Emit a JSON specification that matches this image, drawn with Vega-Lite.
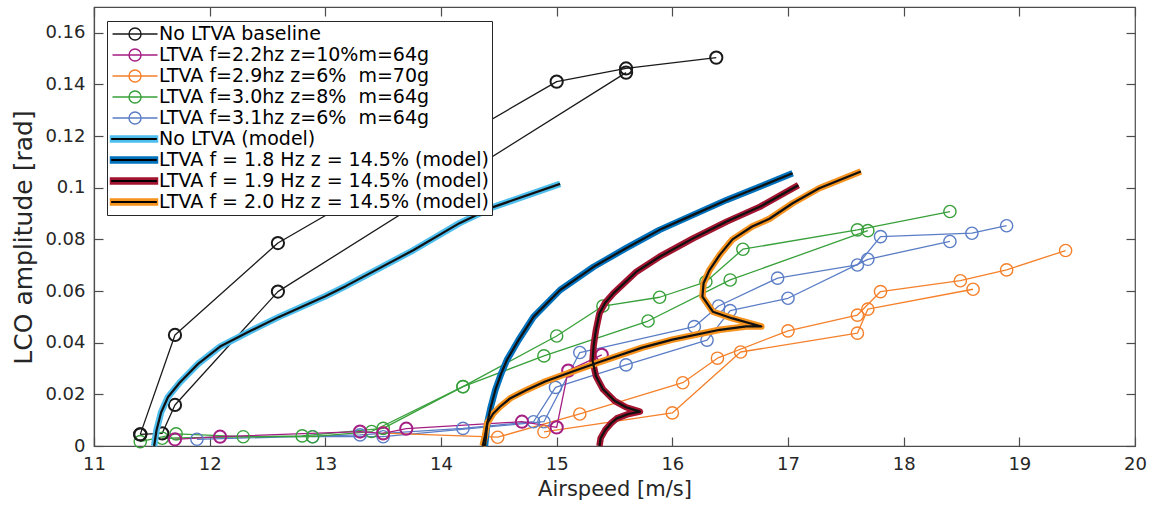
{
  "$schema": "https://vega.github.io/schema/vega-lite/v6.json",
  "width": 1041,
  "height": 439,
  "autosize": {"type": "none"},
  "padding": {"left": 94, "top": 7, "right": 19, "bottom": 62},
  "background": "white",
  "datasets": {
    "exp": [
      {"series": "LTVA f=3.1hz z=6%\u00a0 m=64g", "run": "a", "airspeed": 11.89, "amp": 0.0026},
      {"series": "LTVA f=3.1hz z=6%\u00a0 m=64g", "run": "a", "airspeed": 13.30, "amp": 0.0043},
      {"series": "LTVA f=3.1hz z=6%\u00a0 m=64g", "run": "a", "airspeed": 14.19, "amp": 0.0068},
      {"series": "LTVA f=3.1hz z=6%\u00a0 m=64g", "run": "a", "airspeed": 14.80, "amp": 0.0094},
      {"series": "LTVA f=3.1hz z=6%\u00a0 m=64g", "run": "a", "airspeed": 14.99, "amp": 0.0227},
      {"series": "LTVA f=3.1hz z=6%\u00a0 m=64g", "run": "a", "airspeed": 15.60, "amp": 0.0314},
      {"series": "LTVA f=3.1hz z=6%\u00a0 m=64g", "run": "a", "airspeed": 16.30, "amp": 0.0410},
      {"series": "LTVA f=3.1hz z=6%\u00a0 m=64g", "run": "a", "airspeed": 16.50, "amp": 0.0524},
      {"series": "LTVA f=3.1hz z=6%\u00a0 m=64g", "run": "a", "airspeed": 17.00, "amp": 0.0572},
      {"series": "LTVA f=3.1hz z=6%\u00a0 m=64g", "run": "a", "airspeed": 17.69, "amp": 0.0723},
      {"series": "LTVA f=3.1hz z=6%\u00a0 m=64g", "run": "a", "airspeed": 18.40, "amp": 0.0792},
      {"series": "LTVA f=3.1hz z=6%\u00a0 m=64g", "run": "b", "airspeed": 12.89, "amp": 0.0036},
      {"series": "LTVA f=3.1hz z=6%\u00a0 m=64g", "run": "b", "airspeed": 13.50, "amp": 0.0036},
      {"series": "LTVA f=3.1hz z=6%\u00a0 m=64g", "run": "b", "airspeed": 14.89, "amp": 0.0094},
      {"series": "LTVA f=3.1hz z=6%\u00a0 m=64g", "run": "b", "airspeed": 15.20, "amp": 0.0362},
      {"series": "LTVA f=3.1hz z=6%\u00a0 m=64g", "run": "b", "airspeed": 16.19, "amp": 0.0462},
      {"series": "LTVA f=3.1hz z=6%\u00a0 m=64g", "run": "b", "airspeed": 16.40, "amp": 0.0542},
      {"series": "LTVA f=3.1hz z=6%\u00a0 m=64g", "run": "b", "airspeed": 16.91, "amp": 0.0650},
      {"series": "LTVA f=3.1hz z=6%\u00a0 m=64g", "run": "b", "airspeed": 17.60, "amp": 0.0701},
      {"series": "LTVA f=3.1hz z=6%\u00a0 m=64g", "run": "b", "airspeed": 17.80, "amp": 0.0811},
      {"series": "LTVA f=3.1hz z=6%\u00a0 m=64g", "run": "b", "airspeed": 18.59, "amp": 0.0824},
      {"series": "LTVA f=3.1hz z=6%\u00a0 m=64g", "run": "b", "airspeed": 18.89, "amp": 0.0853},

      {"series": "LTVA f=3.0hz z=8%\u00a0 m=64g", "run": "a", "airspeed": 11.40, "amp": 0.0017},
      {"series": "LTVA f=3.0hz z=8%\u00a0 m=64g", "run": "a", "airspeed": 11.71, "amp": 0.0047},
      {"series": "LTVA f=3.0hz z=8%\u00a0 m=64g", "run": "a", "airspeed": 12.29, "amp": 0.0036},
      {"series": "LTVA f=3.0hz z=8%\u00a0 m=64g", "run": "a", "airspeed": 12.89, "amp": 0.0036},
      {"series": "LTVA f=3.0hz z=8%\u00a0 m=64g", "run": "a", "airspeed": 13.40, "amp": 0.0056},
      {"series": "LTVA f=3.0hz z=8%\u00a0 m=64g", "run": "a", "airspeed": 14.19, "amp": 0.0230},
      {"series": "LTVA f=3.0hz z=8%\u00a0 m=64g", "run": "a", "airspeed": 15.00, "amp": 0.0426},
      {"series": "LTVA f=3.0hz z=8%\u00a0 m=64g", "run": "a", "airspeed": 15.40, "amp": 0.0542},
      {"series": "LTVA f=3.0hz z=8%\u00a0 m=64g", "run": "a", "airspeed": 15.89, "amp": 0.0576},
      {"series": "LTVA f=3.0hz z=8%\u00a0 m=64g", "run": "a", "airspeed": 16.29, "amp": 0.0636},
      {"series": "LTVA f=3.0hz z=8%\u00a0 m=64g", "run": "a", "airspeed": 16.61, "amp": 0.0762},
      {"series": "LTVA f=3.0hz z=8%\u00a0 m=64g", "run": "a", "airspeed": 17.60, "amp": 0.0837},
      {"series": "LTVA f=3.0hz z=8%\u00a0 m=64g", "run": "a", "airspeed": 18.40, "amp": 0.0908},
      {"series": "LTVA f=3.0hz z=8%\u00a0 m=64g", "run": "b", "airspeed": 11.59, "amp": 0.0030},
      {"series": "LTVA f=3.0hz z=8%\u00a0 m=64g", "run": "b", "airspeed": 12.80, "amp": 0.0039},
      {"series": "LTVA f=3.0hz z=8%\u00a0 m=64g", "run": "b", "airspeed": 13.50, "amp": 0.0068},
      {"series": "LTVA f=3.0hz z=8%\u00a0 m=64g", "run": "b", "airspeed": 14.19, "amp": 0.0230},
      {"series": "LTVA f=3.0hz z=8%\u00a0 m=64g", "run": "b", "airspeed": 14.89, "amp": 0.0349},
      {"series": "LTVA f=3.0hz z=8%\u00a0 m=64g", "run": "b", "airspeed": 15.79, "amp": 0.0484},
      {"series": "LTVA f=3.0hz z=8%\u00a0 m=64g", "run": "b", "airspeed": 16.50, "amp": 0.0643},
      {"series": "LTVA f=3.0hz z=8%\u00a0 m=64g", "run": "b", "airspeed": 17.69, "amp": 0.0834},

      {"series": "LTVA f=2.9hz z=6%\u00a0 m=70g", "run": "a", "airspeed": 13.50, "amp": 0.0050},
      {"series": "LTVA f=2.9hz z=6%\u00a0 m=70g", "run": "a", "airspeed": 14.49, "amp": 0.0034},
      {"series": "LTVA f=2.9hz z=6%\u00a0 m=70g", "run": "a", "airspeed": 15.20, "amp": 0.0124},
      {"series": "LTVA f=2.9hz z=6%\u00a0 m=70g", "run": "a", "airspeed": 16.09, "amp": 0.0245},
      {"series": "LTVA f=2.9hz z=6%\u00a0 m=70g", "run": "a", "airspeed": 16.39, "amp": 0.0340},
      {"series": "LTVA f=2.9hz z=6%\u00a0 m=70g", "run": "a", "airspeed": 17.00, "amp": 0.0446},
      {"series": "LTVA f=2.9hz z=6%\u00a0 m=70g", "run": "a", "airspeed": 17.60, "amp": 0.0507},
      {"series": "LTVA f=2.9hz z=6%\u00a0 m=70g", "run": "a", "airspeed": 17.80, "amp": 0.0598},
      {"series": "LTVA f=2.9hz z=6%\u00a0 m=70g", "run": "a", "airspeed": 18.49, "amp": 0.0640},
      {"series": "LTVA f=2.9hz z=6%\u00a0 m=70g", "run": "a", "airspeed": 18.89, "amp": 0.0682},
      {"series": "LTVA f=2.9hz z=6%\u00a0 m=70g", "run": "a", "airspeed": 19.40, "amp": 0.0757},
      {"series": "LTVA f=2.9hz z=6%\u00a0 m=70g", "run": "b", "airspeed": 14.89, "amp": 0.0055},
      {"series": "LTVA f=2.9hz z=6%\u00a0 m=70g", "run": "b", "airspeed": 16.00, "amp": 0.0128},
      {"series": "LTVA f=2.9hz z=6%\u00a0 m=70g", "run": "b", "airspeed": 16.59, "amp": 0.0364},
      {"series": "LTVA f=2.9hz z=6%\u00a0 m=70g", "run": "b", "airspeed": 17.60, "amp": 0.0437},
      {"series": "LTVA f=2.9hz z=6%\u00a0 m=70g", "run": "b", "airspeed": 17.69, "amp": 0.0530},
      {"series": "LTVA f=2.9hz z=6%\u00a0 m=70g", "run": "b", "airspeed": 18.60, "amp": 0.0607},

      {"series": "No LTVA baseline", "run": "a", "airspeed": 11.40, "amp": 0.0045},
      {"series": "No LTVA baseline", "run": "a", "airspeed": 11.70, "amp": 0.0430},
      {"series": "No LTVA baseline", "run": "a", "airspeed": 12.59, "amp": 0.0786},
      {"series": "No LTVA baseline", "run": "a", "airspeed": 15.00, "amp": 0.1411},
      {"series": "No LTVA baseline", "run": "a", "airspeed": 15.60, "amp": 0.1462},
      {"series": "No LTVA baseline", "run": "a", "airspeed": 16.38, "amp": 0.1504},
      {"series": "No LTVA baseline", "run": "b", "airspeed": 11.40, "amp": 0.0045},
      {"series": "No LTVA baseline", "run": "b", "airspeed": 11.59, "amp": 0.0049},
      {"series": "No LTVA baseline", "run": "b", "airspeed": 11.70, "amp": 0.0159},
      {"series": "No LTVA baseline", "run": "b", "airspeed": 12.59, "amp": 0.0598},
      {"series": "No LTVA baseline", "run": "b", "airspeed": 15.60, "amp": 0.1446},

      {"series": "LTVA f=2.2hz z=10%m=64g", "run": "a", "airspeed": 11.70, "amp": 0.0026},
      {"series": "LTVA f=2.2hz z=10%m=64g", "run": "a", "airspeed": 12.09, "amp": 0.0036},
      {"series": "LTVA f=2.2hz z=10%m=64g", "run": "a", "airspeed": 13.30, "amp": 0.0056},
      {"series": "LTVA f=2.2hz z=10%m=64g", "run": "a", "airspeed": 13.50, "amp": 0.0049},
      {"series": "LTVA f=2.2hz z=10%m=64g", "run": "a", "airspeed": 13.70, "amp": 0.0067},
      {"series": "LTVA f=2.2hz z=10%m=64g", "run": "a", "airspeed": 14.70, "amp": 0.0094},
      {"series": "LTVA f=2.2hz z=10%m=64g", "run": "a", "airspeed": 15.00, "amp": 0.0072},
      {"series": "LTVA f=2.2hz z=10%m=64g", "run": "a", "airspeed": 15.10, "amp": 0.0292},
      {"series": "LTVA f=2.2hz z=10%m=64g", "run": "a", "airspeed": 15.39, "amp": 0.0353}
    ],
    "model": [
      {"series": "No LTVA (model)", "k": 0, "airspeed": 11.52, "amp": 0.0},
      {"series": "No LTVA (model)", "k": 1, "airspeed": 11.54, "amp": 0.006},
      {"series": "No LTVA (model)", "k": 2, "airspeed": 11.58, "amp": 0.013},
      {"series": "No LTVA (model)", "k": 3, "airspeed": 11.64, "amp": 0.019},
      {"series": "No LTVA (model)", "k": 4, "airspeed": 11.74, "amp": 0.0245},
      {"series": "No LTVA (model)", "k": 5, "airspeed": 11.90, "amp": 0.0318},
      {"series": "No LTVA (model)", "k": 6, "airspeed": 12.09, "amp": 0.0385},
      {"series": "No LTVA (model)", "k": 7, "airspeed": 12.35, "amp": 0.0445},
      {"series": "No LTVA (model)", "k": 8, "airspeed": 12.60, "amp": 0.0500},
      {"series": "No LTVA (model)", "k": 9, "airspeed": 13.00, "amp": 0.0580},
      {"series": "No LTVA (model)", "k": 10, "airspeed": 13.18, "amp": 0.0620},
      {"series": "No LTVA (model)", "k": 11, "airspeed": 13.76, "amp": 0.0758},
      {"series": "No LTVA (model)", "k": 12, "airspeed": 14.16, "amp": 0.0863},
      {"series": "No LTVA (model)", "k": 13, "airspeed": 14.45, "amp": 0.0925},
      {"series": "No LTVA (model)", "k": 14, "airspeed": 15.03, "amp": 0.1015},

      {"series": "LTVA f = 1.8 Hz z = 14.5% (model)", "k": 0, "airspeed": 14.38, "amp": 0.0},
      {"series": "LTVA f = 1.8 Hz z = 14.5% (model)", "k": 1, "airspeed": 14.39, "amp": 0.004},
      {"series": "LTVA f = 1.8 Hz z = 14.5% (model)", "k": 2, "airspeed": 14.40, "amp": 0.0088},
      {"series": "LTVA f = 1.8 Hz z = 14.5% (model)", "k": 3, "airspeed": 14.43, "amp": 0.015},
      {"series": "LTVA f = 1.8 Hz z = 14.5% (model)", "k": 4, "airspeed": 14.47, "amp": 0.0217},
      {"series": "LTVA f = 1.8 Hz z = 14.5% (model)", "k": 5, "airspeed": 14.52, "amp": 0.028},
      {"series": "LTVA f = 1.8 Hz z = 14.5% (model)", "k": 6, "airspeed": 14.57, "amp": 0.0333},
      {"series": "LTVA f = 1.8 Hz z = 14.5% (model)", "k": 7, "airspeed": 14.67, "amp": 0.041},
      {"series": "LTVA f = 1.8 Hz z = 14.5% (model)", "k": 8, "airspeed": 14.80, "amp": 0.050},
      {"series": "LTVA f = 1.8 Hz z = 14.5% (model)", "k": 9, "airspeed": 15.03, "amp": 0.0604},
      {"series": "LTVA f = 1.8 Hz z = 14.5% (model)", "k": 10, "airspeed": 15.32, "amp": 0.0694},
      {"series": "LTVA f = 1.8 Hz z = 14.5% (model)", "k": 11, "airspeed": 15.60, "amp": 0.0766},
      {"series": "LTVA f = 1.8 Hz z = 14.5% (model)", "k": 12, "airspeed": 15.89, "amp": 0.0837},
      {"series": "LTVA f = 1.8 Hz z = 14.5% (model)", "k": 13, "airspeed": 16.18, "amp": 0.0895},
      {"series": "LTVA f = 1.8 Hz z = 14.5% (model)", "k": 14, "airspeed": 16.47, "amp": 0.0953},
      {"series": "LTVA f = 1.8 Hz z = 14.5% (model)", "k": 15, "airspeed": 16.76, "amp": 0.1005},
      {"series": "LTVA f = 1.8 Hz z = 14.5% (model)", "k": 16, "airspeed": 17.04, "amp": 0.1056},

      {"series": "LTVA f = 1.9 Hz z = 14.5% (model)", "k": 0, "airspeed": 15.37, "amp": 0.0},
      {"series": "LTVA f = 1.9 Hz z = 14.5% (model)", "k": 1, "airspeed": 15.38, "amp": 0.003},
      {"series": "LTVA f = 1.9 Hz z = 14.5% (model)", "k": 2, "airspeed": 15.42, "amp": 0.0062},
      {"series": "LTVA f = 1.9 Hz z = 14.5% (model)", "k": 3, "airspeed": 15.47, "amp": 0.0088},
      {"series": "LTVA f = 1.9 Hz z = 14.5% (model)", "k": 4, "airspeed": 15.52, "amp": 0.0107},
      {"series": "LTVA f = 1.9 Hz z = 14.5% (model)", "k": 5, "airspeed": 15.62, "amp": 0.0124},
      {"series": "LTVA f = 1.9 Hz z = 14.5% (model)", "k": 6, "airspeed": 15.72, "amp": 0.0133},
      {"series": "LTVA f = 1.9 Hz z = 14.5% (model)", "k": 7, "airspeed": 15.60, "amp": 0.0150},
      {"series": "LTVA f = 1.9 Hz z = 14.5% (model)", "k": 8, "airspeed": 15.50, "amp": 0.0175},
      {"series": "LTVA f = 1.9 Hz z = 14.5% (model)", "k": 9, "airspeed": 15.40, "amp": 0.0220},
      {"series": "LTVA f = 1.9 Hz z = 14.5% (model)", "k": 10, "airspeed": 15.34, "amp": 0.0270},
      {"series": "LTVA f = 1.9 Hz z = 14.5% (model)", "k": 11, "airspeed": 15.31, "amp": 0.0330},
      {"series": "LTVA f = 1.9 Hz z = 14.5% (model)", "k": 12, "airspeed": 15.32, "amp": 0.0390},
      {"series": "LTVA f = 1.9 Hz z = 14.5% (model)", "k": 13, "airspeed": 15.34, "amp": 0.0450},
      {"series": "LTVA f = 1.9 Hz z = 14.5% (model)", "k": 14, "airspeed": 15.37, "amp": 0.0514},
      {"series": "LTVA f = 1.9 Hz z = 14.5% (model)", "k": 15, "airspeed": 15.42, "amp": 0.0555},
      {"series": "LTVA f = 1.9 Hz z = 14.5% (model)", "k": 16, "airspeed": 15.49, "amp": 0.0591},
      {"series": "LTVA f = 1.9 Hz z = 14.5% (model)", "k": 17, "airspeed": 15.69, "amp": 0.0675},
      {"series": "LTVA f = 1.9 Hz z = 14.5% (model)", "k": 18, "airspeed": 15.89, "amp": 0.0733},
      {"series": "LTVA f = 1.9 Hz z = 14.5% (model)", "k": 19, "airspeed": 16.18, "amp": 0.0804},
      {"series": "LTVA f = 1.9 Hz z = 14.5% (model)", "k": 20, "airspeed": 16.47, "amp": 0.0869},
      {"series": "LTVA f = 1.9 Hz z = 14.5% (model)", "k": 21, "airspeed": 16.76, "amp": 0.0927},
      {"series": "LTVA f = 1.9 Hz z = 14.5% (model)", "k": 22, "airspeed": 17.09, "amp": 0.1010},

      {"series": "LTVA f = 2.0 Hz z = 14.5% (model)", "k": 0, "airspeed": 14.36, "amp": 0.0},
      {"series": "LTVA f = 2.0 Hz z = 14.5% (model)", "k": 1, "airspeed": 14.38, "amp": 0.004},
      {"series": "LTVA f = 2.0 Hz z = 14.5% (model)", "k": 2, "airspeed": 14.40, "amp": 0.0088},
      {"series": "LTVA f = 2.0 Hz z = 14.5% (model)", "k": 3, "airspeed": 14.45, "amp": 0.0125},
      {"series": "LTVA f = 2.0 Hz z = 14.5% (model)", "k": 4, "airspeed": 14.51, "amp": 0.0152},
      {"series": "LTVA f = 2.0 Hz z = 14.5% (model)", "k": 5, "airspeed": 14.60, "amp": 0.0185},
      {"series": "LTVA f = 2.0 Hz z = 14.5% (model)", "k": 6, "airspeed": 14.74, "amp": 0.0217},
      {"series": "LTVA f = 2.0 Hz z = 14.5% (model)", "k": 7, "airspeed": 14.90, "amp": 0.0250},
      {"series": "LTVA f = 2.0 Hz z = 14.5% (model)", "k": 8, "airspeed": 15.09, "amp": 0.0281},
      {"series": "LTVA f = 2.0 Hz z = 14.5% (model)", "k": 9, "airspeed": 15.37, "amp": 0.0325},
      {"series": "LTVA f = 2.0 Hz z = 14.5% (model)", "k": 10, "airspeed": 15.74, "amp": 0.0381},
      {"series": "LTVA f = 2.0 Hz z = 14.5% (model)", "k": 11, "airspeed": 16.00, "amp": 0.0412},
      {"series": "LTVA f = 2.0 Hz z = 14.5% (model)", "k": 12, "airspeed": 16.41, "amp": 0.0450},
      {"series": "LTVA f = 2.0 Hz z = 14.5% (model)", "k": 13, "airspeed": 16.64, "amp": 0.0463},
      {"series": "LTVA f = 2.0 Hz z = 14.5% (model)", "k": 14, "airspeed": 16.77, "amp": 0.0463},
      {"series": "LTVA f = 2.0 Hz z = 14.5% (model)", "k": 15, "airspeed": 16.52, "amp": 0.0494},
      {"series": "LTVA f = 2.0 Hz z = 14.5% (model)", "k": 16, "airspeed": 16.35, "amp": 0.0520},
      {"series": "LTVA f = 2.0 Hz z = 14.5% (model)", "k": 17, "airspeed": 16.26, "amp": 0.0578},
      {"series": "LTVA f = 2.0 Hz z = 14.5% (model)", "k": 18, "airspeed": 16.27, "amp": 0.0630},
      {"series": "LTVA f = 2.0 Hz z = 14.5% (model)", "k": 19, "airspeed": 16.32, "amp": 0.0680},
      {"series": "LTVA f = 2.0 Hz z = 14.5% (model)", "k": 20, "airspeed": 16.41, "amp": 0.0740},
      {"series": "LTVA f = 2.0 Hz z = 14.5% (model)", "k": 21, "airspeed": 16.52, "amp": 0.0800},
      {"series": "LTVA f = 2.0 Hz z = 14.5% (model)", "k": 22, "airspeed": 16.69, "amp": 0.0850},
      {"series": "LTVA f = 2.0 Hz z = 14.5% (model)", "k": 23, "airspeed": 16.84, "amp": 0.0880},
      {"series": "LTVA f = 2.0 Hz z = 14.5% (model)", "k": 24, "airspeed": 17.04, "amp": 0.0940},
      {"series": "LTVA f = 2.0 Hz z = 14.5% (model)", "k": 25, "airspeed": 17.27, "amp": 0.0998},
      {"series": "LTVA f = 2.0 Hz z = 14.5% (model)", "k": 26, "airspeed": 17.63, "amp": 0.1063}
    ]
  },
  "layer": [
    {
      "encoding": {
        "x": {
          "field": "airspeed", "type": "quantitative", "title": "Airspeed [m/s]",
          "scale": {"domain": [11, 20], "nice": false, "zero": false},
          "axis": {"orient": "bottom", "values": [11, 12, 13, 14, 15, 16, 17, 18, 19, 20], "format": "d", "titlePadding": 5, "titleFontSize": 21}
        },
        "y": {
          "field": "amp", "type": "quantitative", "title": "LCO amplitude [rad]",
          "scale": {"domain": [0, 0.17], "nice": false, "zero": false},
          "axis": {"orient": "left", "values": [0, 0.02, 0.04, 0.06, 0.08, 0.1, 0.12, 0.14, 0.16], "format": ".2~f", "titlePadding": 8, "titleFontSize": 25, "titleY": 230}
        }
      },
      "layer": [
        {
          "data": {"name": "exp"},
          "mark": {"type": "line", "strokeWidth": 1.3, "strokeJoin": "round"},
          "encoding": {
            "color": {
              "field": "series", "type": "nominal",
              "scale": {
                "domain": ["No LTVA baseline", "LTVA f=2.2hz z=10%m=64g", "LTVA f=2.9hz z=6%\u00a0 m=70g", "LTVA f=3.0hz z=8%\u00a0 m=64g", "LTVA f=3.1hz z=6%\u00a0 m=64g", "No LTVA (model)", "LTVA f = 1.8 Hz z = 14.5% (model)", "LTVA f = 1.9 Hz z = 14.5% (model)", "LTVA f = 2.0 Hz z = 14.5% (model)"],
                "range": ["#1a1a1a", "#a51e83", "#f5802a", "#38a03a", "#5a7dc5", "#4dbeee", "#0072bd", "#a2142f", "#f6921e"]
              },
              "legend": {
                "orient": "none", "legendX": 13, "legendY": 14, "title": null,
                "padding": 3, "strokeColor": "#262626", "fillColor": "white",
                "labelFont": "DejaVu Sans", "labelFontSize": 19, "labelColor": "#000000",
                "labelLimit": 600, "labelOffset": 29, "symbolSize": 324, "symbolStrokeWidth": 1.4,
                "rowPadding": 1,
                "encode": {
                  "symbols": {
                    "update": {
                      "shape": {"signal": "indexof(datum.value, 'model') >= 0 ? 'M-1.06,-0.333H4.17V0.333H-1.06ZM-1.06,-0.189H4.17V0.189H-1.06Z' : 'M-0.83,0H4.17M2.34,0A0.67,0.67 0 1,1 1,0A0.67,0.67 0 1,1 2.34,0'"},
                      "fill": {"signal": "indexof(datum.value, 'model') >= 0 ? '#000000' : 'transparent'"}
                    }
                  }
                }
              }
            },
            "detail": {"field": "run", "type": "nominal"},
            "strokeWidth": {
              "condition": {"test": "indexof(datum.series, '2.2hz') >= 0", "value": 2},
              "value": 1.3
            }
          }
        },
        {
          "data": {"name": "exp"},
          "mark": {"type": "point", "shape": "circle", "filled": false, "size": 150, "opacity": 1},
          "encoding": {
            "color": {
              "field": "series", "type": "nominal",
              "scale": {
                "domain": ["No LTVA baseline", "LTVA f=2.2hz z=10%m=64g", "LTVA f=2.9hz z=6%\u00a0 m=70g", "LTVA f=3.0hz z=8%\u00a0 m=64g", "LTVA f=3.1hz z=6%\u00a0 m=64g", "No LTVA (model)", "LTVA f = 1.8 Hz z = 14.5% (model)", "LTVA f = 1.9 Hz z = 14.5% (model)", "LTVA f = 2.0 Hz z = 14.5% (model)"],
                "range": ["#1a1a1a", "#a51e83", "#f5802a", "#38a03a", "#5a7dc5", "#4dbeee", "#0072bd", "#a2142f", "#f6921e"]
              }
            },
            "strokeWidth": {
              "condition": {"test": "indexof(datum.series, '2.2hz') >= 0 || datum.series == 'No LTVA baseline'", "value": 2},
              "value": 1.4
            }
          }
        },
        {
          "data": {"name": "model"},
          "mark": {"type": "line", "strokeWidth": 6.5, "strokeCap": "butt", "strokeJoin": "round"},
          "encoding": {
            "color": {
              "field": "series", "type": "nominal",
              "scale": {
                "domain": ["No LTVA baseline", "LTVA f=2.2hz z=10%m=64g", "LTVA f=2.9hz z=6%\u00a0 m=70g", "LTVA f=3.0hz z=8%\u00a0 m=64g", "LTVA f=3.1hz z=6%\u00a0 m=64g", "No LTVA (model)", "LTVA f = 1.8 Hz z = 14.5% (model)", "LTVA f = 1.9 Hz z = 14.5% (model)", "LTVA f = 2.0 Hz z = 14.5% (model)"],
                "range": ["#1a1a1a", "#a51e83", "#f5802a", "#38a03a", "#5a7dc5", "#4dbeee", "#0072bd", "#a2142f", "#f6921e"]
              }
            },
            "order": {"field": "k", "type": "quantitative"}
          }
        },
        {
          "data": {"name": "model"},
          "mark": {"type": "line", "strokeWidth": 2.2, "color": "#111111", "strokeCap": "butt", "strokeJoin": "round"},
          "encoding": {
            "detail": {"field": "series", "type": "nominal"},
            "order": {"field": "k", "type": "quantitative"}
          }
        }
      ]
    },
    {
      "data": {"name": "exp"},
      "mark": {"type": "point", "opacity": 0},
      "encoding": {
        "x": {
          "field": "airspeed", "type": "quantitative",
          "scale": {"domain": [11, 20], "nice": false, "zero": false},
          "axis": {"orient": "top", "labels": false, "domain": false, "title": null, "values": [11, 12, 13, 14, 15, 16, 17, 18, 19, 20]}
        },
        "y": {
          "field": "amp", "type": "quantitative",
          "scale": {"domain": [0, 0.17], "nice": false, "zero": false},
          "axis": {"orient": "right", "labels": false, "domain": false, "title": null, "values": [0, 0.02, 0.04, 0.06, 0.08, 0.1, 0.12, 0.14, 0.16]}
        }
      }
    }
  ],
  "resolve": {"axis": {"x": "independent", "y": "independent"}},
  "config": {
    "font": "DejaVu Sans",
    "view": {"stroke": "#4d4d4d", "strokeWidth": 1.2},
    "axis": {
      "grid": false,
      "domainColor": "#4d4d4d", "domainWidth": 1.2,
      "tickColor": "#4d4d4d", "tickWidth": 1.2, "tickSize": -9,
      "labelFont": "DejaVu Sans", "labelFontSize": 18, "labelColor": "#262626",
      "labelPadding": 18, "labelFlush": false, "labelOverlap": false,
      "titleFont": "DejaVu Sans", "titleFontSize": 20, "titleFontWeight": "normal", "titleColor": "#262626"
    }
  }
}
